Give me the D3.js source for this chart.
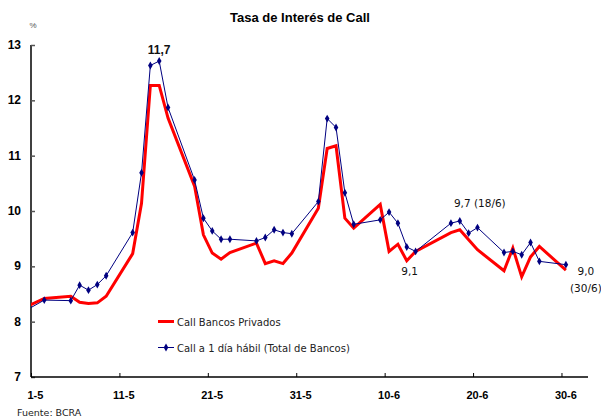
<!DOCTYPE html>
<html><head><meta charset="utf-8">
<script src="https://cdn.jsdelivr.net/npm/d3@7"></script>
<style>body{margin:0;background:#fff}svg{display:block}</style>
</head><body>
<svg id="c" width="601" height="419"></svg>
<script>
const dates = ["30-4","2-5","5-5","6-5","7-5","8-5","9-5","12-5","13-5","14-5","15-5","16-5","19-5","20-5","21-5","22-5","23-5","26-5","27-5","28-5","29-5","30-5","2-6","3-6","4-6","5-6","6-6","9-6","10-6","11-6","12-6","13-6","17-6","18-6","19-6","20-6","23-6","24-6","25-6","26-6","27-6","30-6"];
const privados = [8.27,8.42,8.46,8.35,8.33,8.34,8.46,9.23,10.14,12.27,12.27,11.68,10.45,9.57,9.24,9.13,9.25,9.42,9.05,9.10,9.05,9.24,10.05,11.13,11.18,9.87,9.69,10.12,9.27,9.40,9.10,9.27,9.61,9.66,9.48,9.30,8.92,9.33,8.81,9.17,9.36,8.93];
const total = [8.21,8.39,8.38,8.66,8.57,8.67,8.83,9.61,10.69,12.63,12.71,11.87,10.56,9.87,9.64,9.49,9.49,9.46,9.52,9.66,9.61,9.59,10.17,11.67,11.51,10.33,9.76,9.84,9.98,9.78,9.35,9.27,9.78,9.82,9.60,9.70,9.25,9.27,9.21,9.43,9.09,9.03];
const xTickLabels = ["1-5","11-5","21-5","31-5","10-6","20-6","30-6"];
const yTicks = [7,8,9,10,11,12,13];
const seriesNames = ["Call Bancos Privados","Call a 1 día hábil (Total de Bancos)"];
const annotations = [
  {text:"11,7", date:"15-5", value:12.71, dx:0, dy:-7, bold:true},
  {text:"9,1", date:"13-6", value:9.27, dx:-6, dy:23.5, bold:false},
  {text:"9,7 (18/6)", date:"18-6", value:9.82, dx:20, dy:-14, bold:false},
  {text:"9,0", date:"30-6", value:9.03, dx:20, dy:10.5, bold:false},
  {text:"(30/6)", date:"30-6", value:9.03, dx:20, dy:27, bold:false}
];

function dayIndex(s){const [d,m]=s.split("-").map(Number); return m===4? d-31 : (m===5? d-1 : 30+d);}

const svg = d3.select("#c");
const pL=31, pR=588, pT=45, pB=377;
const x = d3.scaleLinear().domain([0,63]).range([pL,pR]);
const y = d3.scaleLinear().domain([7,13]).range([pB,pT]);
const font = "'Liberation Sans', Arial, sans-serif";

svg.append("text").attr("x",300).attr("y",22).attr("text-anchor","middle")
  .attr("font-family",font).attr("font-weight","bold").attr("font-size",13).attr("fill","#000")
  .text("Tasa de Interés de Call");
svg.append("text").attr("x",33).attr("y",28).attr("text-anchor","middle")
  .attr("font-family",font).attr("font-size",8).attr("fill","#555").text("%");

// y axis
const yAxis = d3.axisRight(y).tickValues(yTicks).tickSize(4).tickFormat("");
const gy = svg.append("g").attr("transform",`translate(${pL},0)`).call(yAxis);
gy.select(".domain").attr("stroke","#000").attr("stroke-width",1.5).attr("d",`M0,${pT}V${pB}`);
gy.selectAll(".tick line").attr("stroke","#555").attr("stroke-width",1.5);
svg.append("g").selectAll("text").data(yTicks).join("text")
  .attr("x",21).attr("y",d=>y(d)+4).attr("text-anchor","end")
  .attr("font-family",font).attr("font-weight","bold").attr("font-size",12).attr("fill","#000")
  .text(d=>d);

// x axis
const xt = xTickLabels.map(dayIndex);
const xAxis = d3.axisTop(x).tickValues(xt).tickSize(4).tickFormat("");
const gx = svg.append("g").attr("transform",`translate(0,${pB})`).call(xAxis);
gx.select(".domain").attr("stroke","#000").attr("stroke-width",1.5).attr("d",`M${pL},0H${pR}`);
gx.selectAll(".tick line").attr("stroke","#000").attr("stroke-width",1);
svg.append("g").selectAll("text").data(xTickLabels).join("text")
  .attr("x",d=>x(dayIndex(d)+0.5)).attr("y",pB+22).attr("text-anchor","middle")
  .attr("font-family",font).attr("font-weight","bold").attr("font-size",11).attr("fill","#000")
  .text(d=>d);

svg.append("text").attr("x",17).attr("y",416).attr("font-family","'DejaVu Sans', sans-serif")
  .attr("font-size",9.5).attr("fill","#222").text("Fuente: BCRA");

// clip
svg.append("clipPath").attr("id","clip").append("rect").attr("x",pL).attr("y",0).attr("width",pR-pL).attr("height",pB);
const plot = svg.append("g").attr("clip-path","url(#clip)");
const line = d3.line().x(d=>x(dayIndex(d.date)+0.5)).y(d=>y(d.v));
plot.append("path").datum(dates.map((d,i)=>({date:d,v:privados[i]})))
  .attr("d",line).attr("fill","none").attr("stroke","#ff0000").attr("stroke-width",3).attr("stroke-linejoin","miter");
const tdat = dates.map((d,i)=>({date:d,v:total[i]}));
plot.append("path").datum(tdat).attr("d",line).attr("fill","none").attr("stroke","#000080").attr("stroke-width",1);
const sym = d3.symbol().type(d3.symbolDiamond).size(18);
plot.selectAll(".m").data(tdat.filter(d=>dayIndex(d.date)>=0)).join("path").attr("class","m")
  .attr("transform",d=>`translate(${x(dayIndex(d.date)+0.5)},${y(d.v)})`).attr("d",sym).attr("fill","#000080");

// legend
const lf = "'DejaVu Sans', sans-serif";
svg.append("line").attr("x1",158).attr("x2",174).attr("y1",321.5).attr("y2",321.5).attr("stroke","#ff0000").attr("stroke-width",3);
svg.append("text").attr("x",177).attr("y",325.5).attr("font-family",lf).attr("font-size",10).attr("fill","#222").text(seriesNames[0]);
svg.append("line").attr("x1",158).attr("x2",174).attr("y1",347.5).attr("y2",347.5).attr("stroke","#000080").attr("stroke-width",1);
svg.append("path").attr("transform","translate(166,347.5)").attr("d",sym).attr("fill","#000080");
svg.append("text").attr("x",177).attr("y",351.5).attr("font-family",lf).attr("font-size",10).attr("fill","#222").text(seriesNames[1]);

// annotations
svg.append("g").selectAll("text").data(annotations).join("text")
  .attr("x",d=>x(dayIndex(d.date)+0.5)+d.dx).attr("y",d=>y(d.value)+d.dy)
  .attr("text-anchor","middle").attr("font-family",d=>d.bold?font:lf)
  .attr("font-weight",d=>d.bold?"bold":"normal").attr("font-size",d=>d.bold?12:10.5).attr("fill","#111")
  .text(d=>d.text);
</script>
</body></html>
